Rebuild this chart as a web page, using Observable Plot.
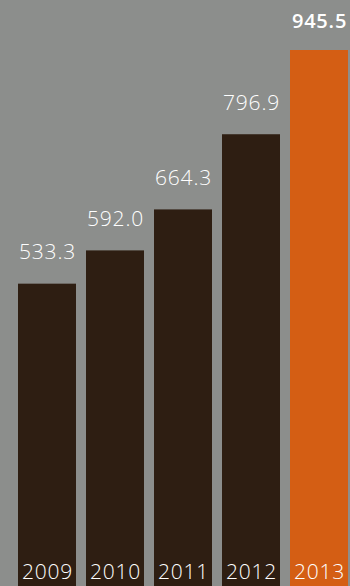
<!DOCTYPE html>
<html>
<head>
<meta charset="utf-8">
<script src="https://cdn.jsdelivr.net/npm/d3@7"></script>
<script src="https://cdn.jsdelivr.net/npm/@observablehq/plot@0.6"></script>
<style>
  html, body { margin: 0; padding: 0; background: #8c8e8c; }
  #chart svg { display: block; }
  #chart svg text { letter-spacing: 0.8px; }
</style>
</head>
<body>
<div id="chart"></div>
<script>
const years = ["2009", "2010", "2011", "2012", "2013"];
const values = [533.3, 592.0, 664.3, 796.9, 945.5];
const labels = ["533.3", "592.0", "664.3", "796.9", "945.5"];
const highlight = [false, false, false, false, true];

const data = years.map((y, i) => ({year: y, value: values[i], label: labels[i], hi: highlight[i]}));

const dark = "#2e1e12";
const orange = "#d45e14";

const chart = Plot.plot({
  width: 350,
  height: 586,
  marginLeft: 17,
  marginRight: 1,
  marginTop: 50,
  marginBottom: 0,
  style: {background: "#8c8e8c", fontFamily: "'Open Sans', sans-serif"},
  x: {domain: years, paddingInner: 0.153, paddingOuter: 0, axis: null},
  y: {domain: [0, 945.5], axis: null},
  marks: [
    Plot.barY(data, {x: "year", y: "value", fill: d => d.hi ? orange : dark}),
    Plot.text(data.filter(d => !d.hi), {x: "year", y: "value", text: "label", dy: -25, lineAnchor: "bottom",
      fill: "white", fontSize: 21, fontWeight: 300}),
    Plot.text(data.filter(d => d.hi), {x: "year", y: "value", text: "label", dy: -23, lineAnchor: "bottom",
      fill: "white", fontSize: 20, fontWeight: 600}),
    Plot.text(data, {x: "year", y: 0, text: "year", dy: -8, lineAnchor: "bottom",
      fill: "white", fontSize: 21, fontWeight: 300})
  ]
});
document.getElementById("chart").append(chart);
</script>
</body>
</html>
